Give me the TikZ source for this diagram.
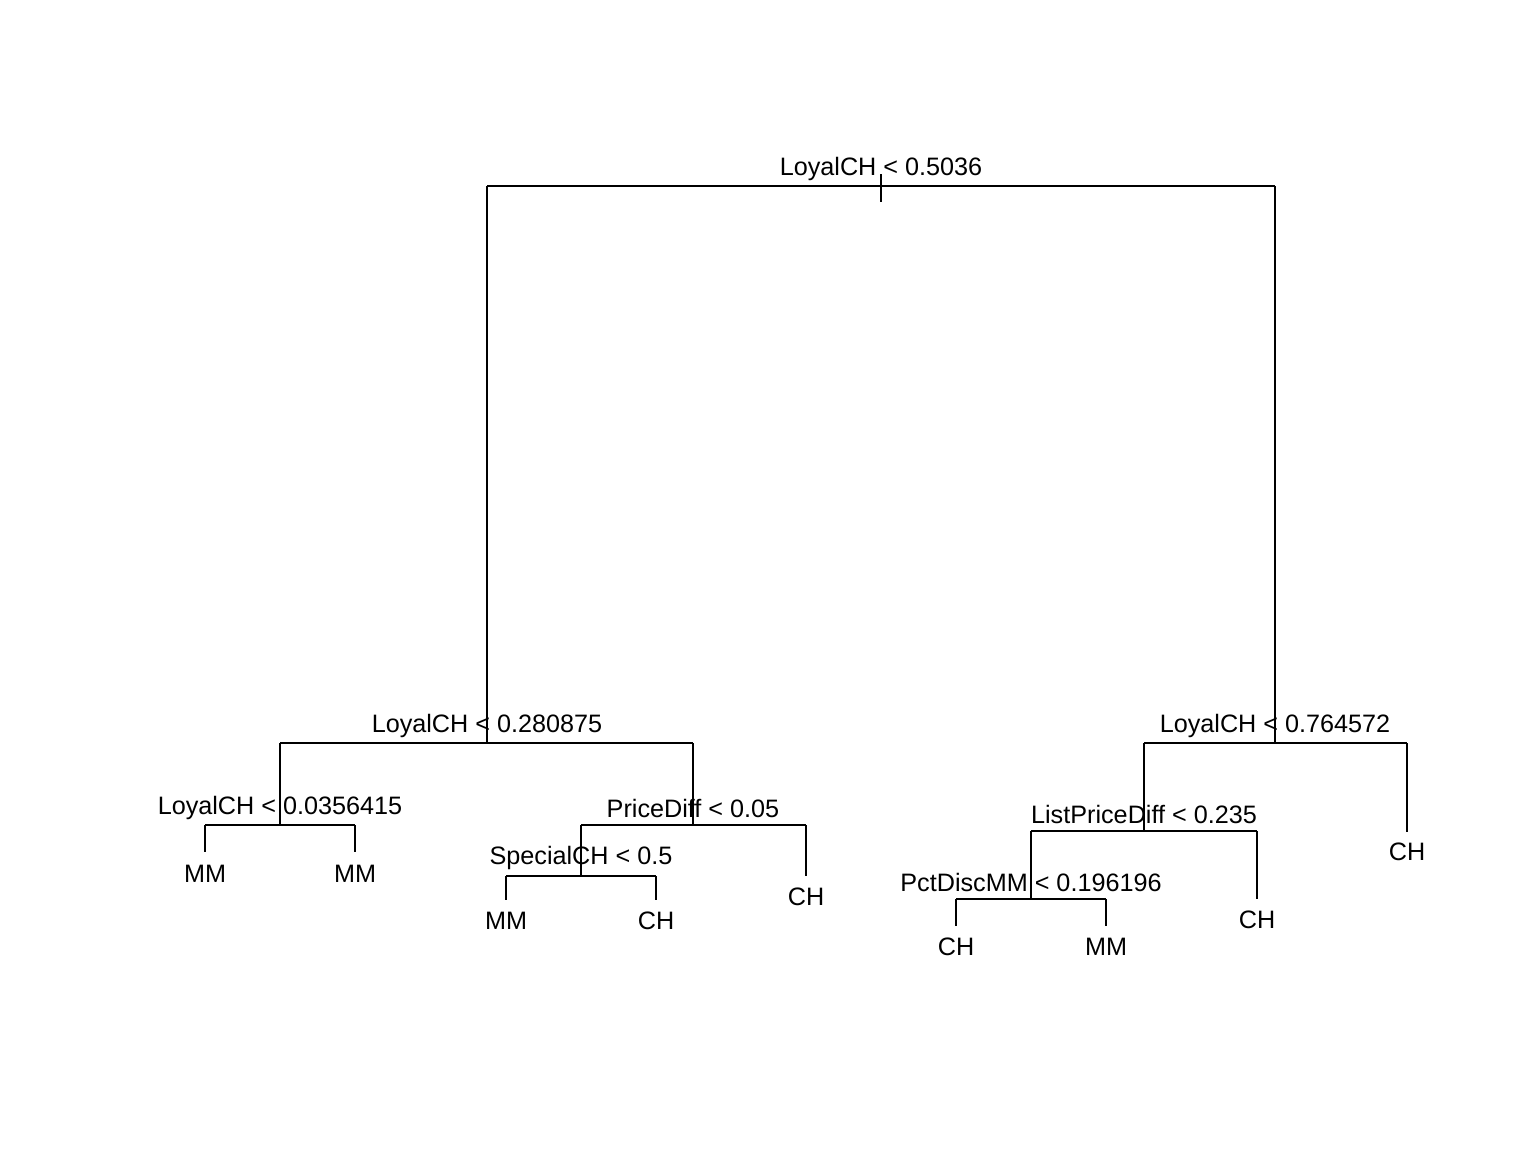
\documentclass[tikz,border=0pt]{standalone}
\usepackage{fontspec}
\setmainfont{Liberation Sans}
\begin{document}
\begin{tikzpicture}[x=0.5pt,y=-0.5pt,
  lbl/.style={anchor=base,inner sep=0pt,font=\fontsize{12.6}{15}\selectfont},
  edge/.style={line width=1pt,line cap=butt}]
\useasboundingbox (0,0) rectangle (1536,1152);
% split labels
\node[lbl] (l0) at (881,175) {LoyalCH < 0.5036};
\node[lbl] (l1) at (487,732) {LoyalCH < 0.280875};
\node[lbl] (l2) at (280,814) {LoyalCH < 0.0356415};
\node[lbl] (l3) at (693,817) {PriceDiff < 0.05};
\node[lbl] (l4) at (581,864) {SpecialCH < 0.5};
\node[lbl] (r1) at (1275,732) {LoyalCH < 0.764572};
\node[lbl] (r2) at (1144,823) {ListPriceDiff < 0.235};
\node[lbl] (r3) at (1031,891) {PctDiscMM < 0.196196};
% leaf labels
\node[lbl] (f1) at (205,882) {MM};
\node[lbl] (f2) at (355,882) {MM};
\node[lbl] (f3) at (506,929) {MM};
\node[lbl] (f4) at (656,929) {CH};
\node[lbl] (f5) at (806,905) {CH};
\node[lbl] (f6) at (956,955) {CH};
\node[lbl] (f7) at (1106,955) {MM};
\node[lbl] (f8) at (1257,928) {CH};
\node[lbl] (f9) at (1407,860) {CH};
% junction coordinates
\coordinate (t0) at (881,174);
\coordinate (t1) at (881,202);
\coordinate (a) at (487,186); \coordinate (b) at (1275,186);
\coordinate (aL) at (280,743); \coordinate (aR) at (693,743);
\coordinate (bL) at (1144,743); \coordinate (bR) at (1407,743);
\coordinate (aLL) at (205,825); \coordinate (aLR) at (355,825);
\coordinate (aRL) at (581,825); \coordinate (aRR) at (806,825);
\coordinate (aRLL) at (506,876); \coordinate (aRLR) at (656,876);
\coordinate (bLL) at (1031,831); \coordinate (bLR) at (1257,831);
\coordinate (bLLL) at (956,899); \coordinate (bLLR) at (1106,899);
\coordinate (e1) at (205,852); \coordinate (e2) at (355,852);
\coordinate (e3) at (506,900); \coordinate (e4) at (656,900);
\coordinate (e5) at (806,876); \coordinate (e6) at (956,926);
\coordinate (e7) at (1106,926); \coordinate (e8) at (1257,899);
\coordinate (e9) at (1407,832);
% edges
\draw[edge] (t0) -- (t1);
\draw[edge] (a) -- (b);
\draw[edge] (a) -- (a |- aL);
\draw[edge] (b) -- (b |- bL);
\draw[edge] (aL) -- (aR);
\draw[edge] (bL) -- (bR);
\draw[edge] (aL) -- (aL |- aLL);
\draw[edge] (aLL) -- (aLR);
\draw[edge] (aLL) -- (e1);
\draw[edge] (aLR) -- (e2);
\draw[edge] (aR) -- (aR |- aRL);
\draw[edge] (aRL) -- (aRR);
\draw[edge] (aRL) -- (aRL |- aRLL);
\draw[edge] (aRLL) -- (aRLR);
\draw[edge] (aRLL) -- (e3);
\draw[edge] (aRLR) -- (e4);
\draw[edge] (aRR) -- (e5);
\draw[edge] (bL) -- (bL |- bLL);
\draw[edge] (bLL) -- (bLR);
\draw[edge] (bLR) -- (e8);
\draw[edge] (bLL) -- (bLL |- bLLL);
\draw[edge] (bLLL) -- (bLLR);
\draw[edge] (bLLL) -- (e6);
\draw[edge] (bLLR) -- (e7);
\draw[edge] (bR) -- (e9);
\end{tikzpicture}
\end{document}
